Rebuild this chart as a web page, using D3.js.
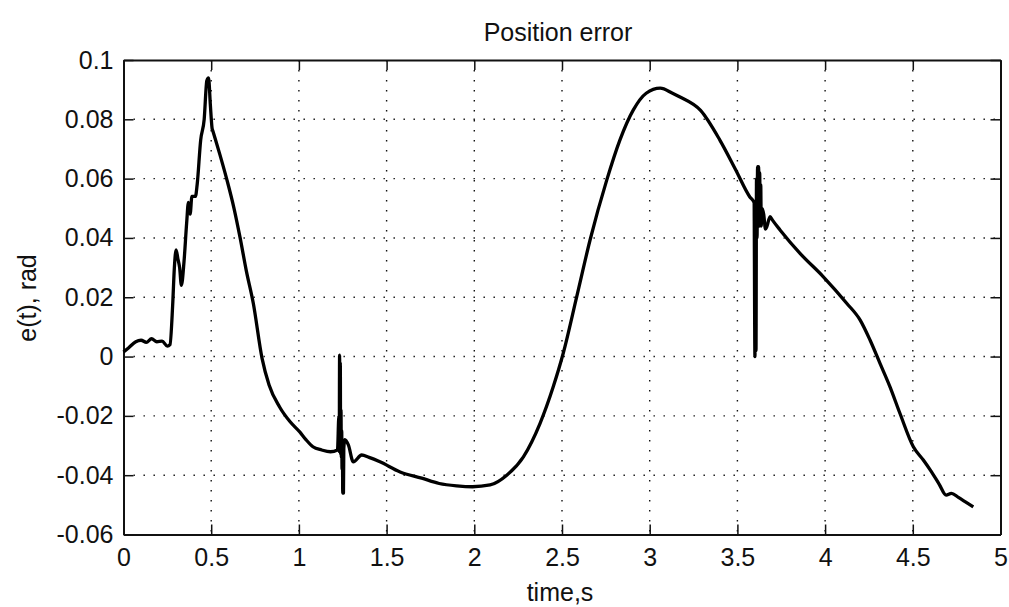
<!DOCTYPE html>
<html>
<head>
<meta charset="utf-8">
<script src="https://cdn.jsdelivr.net/npm/d3@7"></script>
<style>
  body { margin: 0; background: #fff; }
  text { font-family: "Liberation Sans", Arial, sans-serif; fill: #111; }
</style>
</head>
<body>
<div id="chart"></div>
<script>
// position error samples
var time = [
  0.00, 0.03, 0.07, 0.10, 0.13, 0.16, 0.19, 0.22, 0.25, 0.265,
  0.28, 0.29, 0.30, 0.31, 0.32, 0.33, 0.345, 0.36, 0.37, 0.38,
  0.39, 0.41, 0.42, 0.44, 0.46, 0.475, 0.485, 0.495, 0.505, 0.51,
  0.55, 0.59, 0.63, 0.665, 0.70, 0.74, 0.79, 0.83, 0.89, 0.95,
  1.006, 1.04, 1.08, 1.13, 1.18, 1.22,
  1.228, 1.230, 1.232, 1.234, 1.236, 1.238, 1.240, 1.242, 1.244, 1.246,
  1.248, 1.250, 1.252, 1.254, 1.256, 1.262, 1.282, 1.31, 1.358, 1.40,
  1.462, 1.577, 1.70, 1.80, 1.90, 1.99, 2.09, 2.185, 2.28, 2.375,
  2.45, 2.507, 2.584, 2.66, 2.755, 2.83, 2.906, 2.98, 3.06, 3.13,
  3.17, 3.29, 3.40, 3.49, 3.57, 3.595,
  3.600, 3.603, 3.606, 3.609, 3.612, 3.615, 3.618, 3.621, 3.624, 3.627,
  3.630, 3.633, 3.636, 3.640, 3.650, 3.660, 3.668, 3.686, 3.70, 3.743,
  3.857, 3.99, 4.123, 4.20, 4.256, 4.313, 4.37, 4.427, 4.503, 4.56,
  4.60, 4.65, 4.69, 4.72, 4.76, 4.80, 4.845
];
var error = [
  0.0015, 0.003, 0.005, 0.0055, 0.0048, 0.006, 0.005, 0.0052, 0.0035, 0.004,
  0.017, 0.030, 0.036, 0.033, 0.030, 0.024, 0.032, 0.045, 0.052, 0.048,
  0.054, 0.054, 0.058, 0.073, 0.080, 0.093, 0.094, 0.085, 0.077, 0.076,
  0.068, 0.0595, 0.050, 0.040, 0.029, 0.018, -0.0006, -0.0096, -0.017, -0.022,
  -0.0255, -0.028, -0.0304, -0.0315, -0.0321, -0.0315,
  -0.020, -0.032, 0.0005, -0.030, -0.002, -0.033, -0.018, -0.034, -0.025, -0.038,
  -0.028, -0.046, -0.030, -0.046, -0.031, -0.028, -0.0298, -0.0355, -0.0332, -0.034,
  -0.0355, -0.0389, -0.041, -0.0428, -0.0436, -0.0439, -0.0433, -0.040, -0.0338, -0.0225,
  -0.0102, 0.0011, 0.0202, 0.0393, 0.0595, 0.073, 0.0831, 0.0888, 0.0905, 0.0888,
  0.0876, 0.083, 0.073, 0.063, 0.0539, 0.052,
  0.0, 0.050, 0.002, 0.060, 0.040, 0.064, 0.045, 0.064, 0.044, 0.062,
  0.046, 0.058, 0.044, 0.050, 0.048, 0.043, 0.0438, 0.0472, 0.046, 0.0427,
  0.0348, 0.0269, 0.018, 0.0123, 0.0056, -0.0023, -0.0102, -0.0192, -0.0304, -0.0349,
  -0.0383, -0.043, -0.0467, -0.0461, -0.0475, -0.049, -0.0507
];

var xTicks = [0, 0.5, 1, 1.5, 2, 2.5, 3, 3.5, 4, 4.5, 5];
var yTicks = [-0.06, -0.04, -0.02, 0, 0.02, 0.04, 0.06, 0.08, 0.1];

var W = 1009, H = 607;
var margin = {left: 123.5, top: 60, right: 8.5, bottom: 72.5};
var w = W - margin.left - margin.right;
var h = H - margin.top - margin.bottom;

var svg = d3.select('#chart').append('svg')
  .attr('width', W)
  .attr('height', H);

var g = svg.append('g')
  .attr('transform', 'translate(' + margin.left + ',' + margin.top + ')');

var x = d3.scaleLinear().domain([0, 5]).range([0, w]);
var y = d3.scaleLinear().domain([-0.06, 0.1]).range([h, 0]);

// dotted grid
g.selectAll('.vgrid')
  .data(xTicks.slice(1, -1))
  .enter().append('line')
  .attr('x1', d => x(d)).attr('x2', d => x(d))
  .attr('y1', 0).attr('y2', h)
  .attr('stroke', '#111')
  .attr('stroke-width', 1.4)
  .attr('stroke-dasharray', '1.4,8.6');

g.selectAll('.hgrid')
  .data(yTicks.slice(1, -1))
  .enter().append('line')
  .attr('x1', 0).attr('x2', w)
  .attr('y1', d => y(d)).attr('y2', d => y(d))
  .attr('stroke', '#111')
  .attr('stroke-width', 1.4)
  .attr('stroke-dasharray', '1.4,8.6');

// axes with inward ticks, box style
var fmt = d => String(d);
var xBottom = g.append('g').attr('transform', 'translate(0,' + h + ')')
  .call(d3.axisBottom(x).tickValues(xTicks).tickFormat(fmt).tickSizeInner(-10).tickSizeOuter(0).tickPadding(14));
var xTop = g.append('g')
  .call(d3.axisTop(x).tickValues(xTicks).tickFormat('').tickSizeInner(-10).tickSizeOuter(0));
var yLeft = g.append('g')
  .call(d3.axisLeft(y).tickValues(yTicks).tickFormat(fmt).tickSizeInner(-10).tickSizeOuter(0).tickPadding(12));
var yRight = g.append('g').attr('transform', 'translate(' + w + ',0)')
  .call(d3.axisRight(y).tickValues(yTicks).tickFormat('').tickSizeInner(-10).tickSizeOuter(0));

[xBottom, xTop, yLeft, yRight].forEach(function(a) {
  a.select('.domain').attr('stroke', '#111').attr('stroke-width', 2);
  a.selectAll('.tick line').attr('stroke', '#111').attr('stroke-width', 1.5);
  a.selectAll('text').style('font-size', '25px').attr('fill', '#111');
});
yLeft.selectAll('text').attr('dx', '2');

// the error curve
var pts = time.map((t, i) => [t, error[i]]);
g.append('path')
  .datum(pts)
  .attr('fill', 'none')
  .attr('stroke', '#000')
  .attr('stroke-width', 3.3)
  .attr('stroke-linejoin', 'round')
  .attr('d', d3.line().curve(d3.curveMonotoneX).x(d => x(d[0])).y(d => y(d[1])));

// labels
svg.append('text')
  .attr('x', 558).attr('y', 41)
  .attr('text-anchor', 'middle')
  .style('font-size', '25px')
  .text('Position error');

svg.append('text')
  .attr('x', 560).attr('y', 601)
  .attr('text-anchor', 'middle')
  .style('font-size', '25px')
  .text('time,s');

svg.append('text')
  .attr('transform', 'translate(36,298) rotate(-90)')
  .attr('text-anchor', 'middle')
  .style('font-size', '25px')
  .text('e(t), rad');
</script>
</body>
</html>
